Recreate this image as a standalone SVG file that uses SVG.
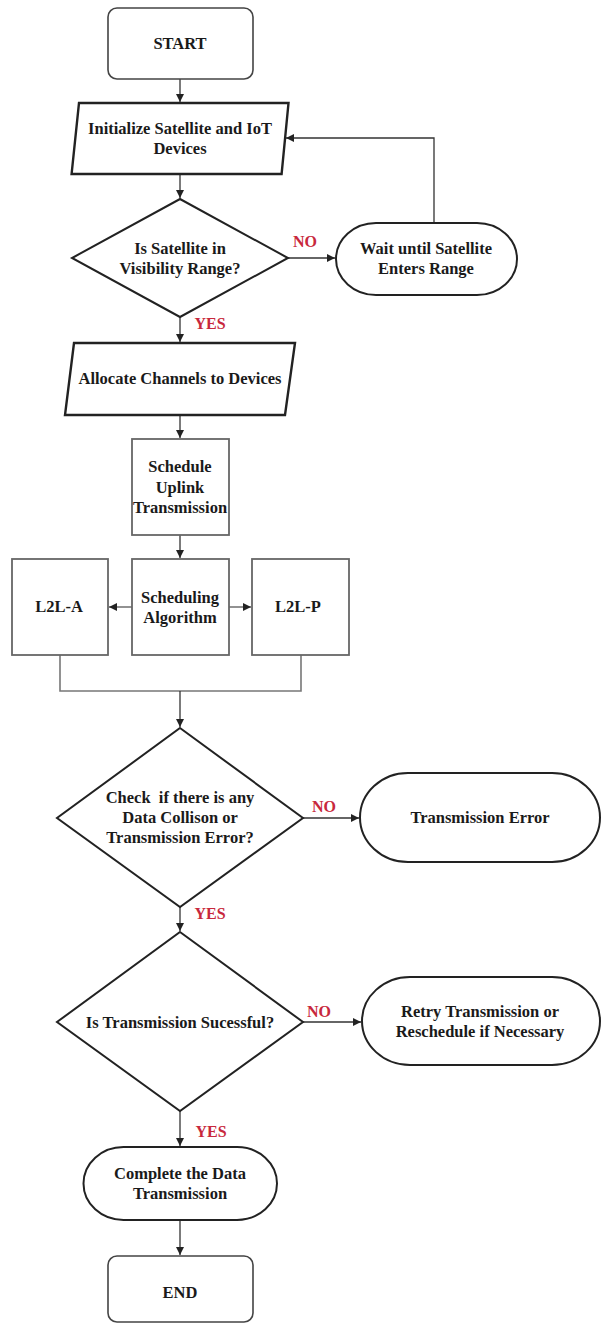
<svg xmlns="http://www.w3.org/2000/svg" width="601" height="1325" viewBox="0 0 601 1325">
<style>
  .bg{fill:#ffffff}
  .term{fill:#fff;stroke:#444;stroke-width:1.6}
  .io{fill:#fff;stroke:#222;stroke-width:2.4}
  .dec{fill:#fff;stroke:#222;stroke-width:2}
  .oval{fill:#fff;stroke:#222;stroke-width:2}
  .box{fill:#fff;stroke:#666;stroke-width:1.8}
  .t{font-family:"Liberation Serif","Times New Roman",serif;font-weight:bold;font-size:16.5px;fill:#1a1a1a;text-anchor:middle;dominant-baseline:central}
  .pre{white-space:pre}
  .lbl{font-family:"Liberation Serif","Times New Roman",serif;font-weight:bold;font-size:16px;fill:#c8283c;text-anchor:middle;dominant-baseline:central}
  .c{fill:none;stroke:#333;stroke-width:1.3}
  .cg{fill:none;stroke:#777;stroke-width:1.6}
</style>
<defs>
  <marker id="ah" markerUnits="userSpaceOnUse" markerWidth="9" markerHeight="9" refX="8" refY="4" orient="auto">
    <path d="M0,0 L8,4 L0,8 z" fill="#222"/>
  </marker>
</defs>
<rect class="bg" x="0" y="0" width="601" height="1325"/>

<g id="connectors">
  <path class="c" d="M180,79 V102" marker-end="url(#ah)"/>
  <path class="c" d="M180,174 V198" marker-end="url(#ah)"/>
  <path class="c" d="M288,258 H335" marker-end="url(#ah)"/>
  <path class="c" d="M434,223 V138 H286" marker-end="url(#ah)"/>
  <path class="c" d="M180,317 V342" marker-end="url(#ah)"/>
  <path class="c" d="M180,415 V438" marker-end="url(#ah)"/>
  <path class="c" d="M180,535 V558" marker-end="url(#ah)"/>
  <path class="cg" d="M132,607 H109" marker-end="url(#ah)"/>
  <path class="cg" d="M229,607 H251" marker-end="url(#ah)"/>
  <path class="cg" d="M60,655 V691 H301 V655"/>
  <path class="c" d="M180,691 V727" marker-end="url(#ah)"/>
  <path class="c" d="M303,818 H359" marker-end="url(#ah)"/>
  <path class="c" d="M180,907 V931" marker-end="url(#ah)"/>
  <path class="c" d="M303,1022 H361" marker-end="url(#ah)"/>
  <path class="c" d="M180,1111 V1146" marker-end="url(#ah)"/>
  <path class="c" d="M180,1220 V1255" marker-end="url(#ah)"/>
  <text class="lbl" x="305" y="241">NO</text>
  <text class="lbl" x="210" y="323">YES</text>
  <text class="lbl" x="324" y="806">NO</text>
  <text class="lbl" x="210" y="913">YES</text>
  <text class="lbl" x="319" y="1011">NO</text>
  <text class="lbl" x="211" y="1131">YES</text>
</g>

<g id="start">
  <rect class="term" x="108" y="8" width="145" height="71" rx="9"/>
  <text class="t" x="180" y="43">START</text>
</g>

<g id="init">
  <polygon class="io" points="79,103 288.5,103 281.6,174 71.6,174"/>
  <text class="t" x="180" y="128">Initialize Satellite and IoT</text>
  <text class="t" x="180" y="148">Devices</text>
</g>

<g id="visibility">
  <polygon class="dec" points="180,199 288,258 180,317 72,258"/>
  <text class="t" x="180" y="248">Is Satellite in</text>
  <text class="t" x="180" y="268">Visibility Range?</text>
</g>

<g id="wait">
  <rect class="oval" x="336" y="223" width="181" height="72" rx="40" ry="36"/>
  <text class="t" x="426" y="248">Wait until Satellite</text>
  <text class="t" x="426" y="268">Enters Range</text>
</g>

<g id="allocate">
  <polygon class="io" points="74,343 295,343 285,415 65,415"/>
  <text class="t" x="180" y="378">Allocate Channels to Devices</text>
</g>

<g id="schedule">
  <rect class="box" x="132" y="439" width="97" height="96"/>
  <text class="t" x="180" y="466">Schedule</text>
  <text class="t" x="180" y="487">Uplink</text>
  <text class="t" x="180" y="507">Transmission</text>
</g>

<g id="algorithm">
  <rect class="box" x="132" y="559" width="97" height="96"/>
  <text class="t" x="180" y="597">Scheduling</text>
  <text class="t" x="180" y="617">Algorithm</text>
</g>

<g id="l2la">
  <rect class="box" x="12" y="559" width="96" height="96"/>
  <text class="t" x="59" y="606">L2L-A</text>
</g>

<g id="l2lp">
  <rect class="box" x="252" y="559" width="97" height="96"/>
  <text class="t" x="298" y="606">L2L-P</text>
</g>

<g id="collision">
  <polygon class="dec" points="180,728 303,818 180,907 57,818"/>
  <text class="t pre" x="180" y="797">Check  if there is any</text>
  <text class="t" x="180" y="817">Data Collison or</text>
  <text class="t" x="180" y="837">Transmission Error?</text>
</g>

<g id="txerror">
  <rect class="oval" x="360" y="773" width="240" height="89" rx="48" ry="44.5"/>
  <text class="t" x="480" y="817">Transmission Error</text>
</g>

<g id="success">
  <polygon class="dec" points="180,932 303,1022 180,1111 57,1022"/>
  <text class="t" x="180" y="1022">Is Transmission Sucessful?</text>
</g>

<g id="retry">
  <rect class="oval" x="362" y="977" width="238" height="88" rx="48" ry="44"/>
  <text class="t" x="480" y="1011">Retry Transmission or</text>
  <text class="t" x="480" y="1031">Reschedule if Necessary</text>
</g>

<g id="complete">
  <rect class="oval" x="83.5" y="1147" width="193.5" height="73" rx="40" ry="36.5"/>
  <text class="t" x="180" y="1173">Complete the Data</text>
  <text class="t" x="180" y="1193">Transmission</text>
</g>

<g id="end">
  <rect class="term" x="108" y="1256" width="145" height="66" rx="9"/>
  <text class="t" x="180" y="1292">END</text>
</g>
</svg>
